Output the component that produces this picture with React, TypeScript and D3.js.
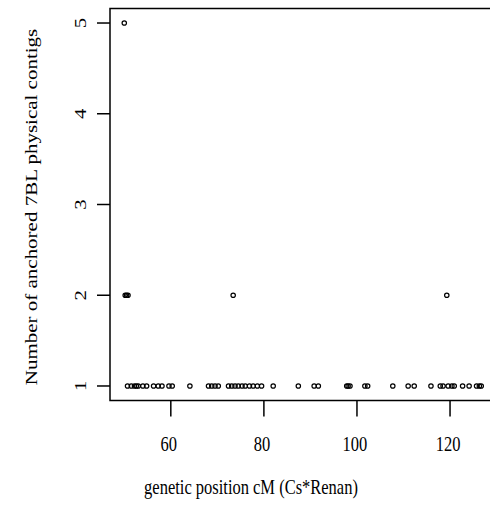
import React from "react";
import * as d3 from "d3";

// genetic position (cM) of each marker bin and number of anchored contigs
const positions: number[] = [
  50.0,
  50.2, 50.5, 50.8,
  50.7, 51.5, 52.2, 52.6, 53.0, 54.0, 54.8, 56.3, 57.3, 58.1, 59.6, 60.3,
  64.1, 68.1, 68.8, 69.5, 70.2, 72.4, 73.1, 73.8, 74.5, 75.3, 76.0, 76.9,
  77.7, 78.6, 79.5, 82.0, 87.4, 90.8, 91.7, 97.8, 98.1, 98.5, 101.7, 102.3,
  107.7, 111.0, 112.3, 115.9, 117.9, 118.5, 119.6, 120.4, 120.9, 122.7,
  124.1, 125.7, 126.3, 126.7,
  73.4, 119.3,
];
const counts: number[] = [
  5,
  2, 2, 2,
  1, 1, 1, 1, 1, 1, 1, 1, 1, 1, 1, 1,
  1, 1, 1, 1, 1, 1, 1, 1, 1, 1, 1, 1,
  1, 1, 1, 1, 1, 1, 1, 1, 1, 1, 1, 1,
  1, 1, 1, 1, 1, 1, 1, 1, 1, 1,
  1, 1, 1, 1,
  2, 2,
];
const xTicks: number[] = [60, 80, 100, 120];
const yTicks: number[] = [1, 2, 3, 4, 5];
const xTitle = "genetic position cM (Cs*Renan)";
const yTitle = "Number of anchored 7BL physical contigs";

const W = 490;
const H = 506;
const left = 110;
const right = 495.5;
const top = 8.5;
const bottom = 400.5;
const FONT = "'Liberation Serif', 'Times New Roman', serif";
const FS = 16.5;
const STRETCH = 1.25;

function pad(ext: [number, number]): [number, number] {
  const r = ext[1] - ext[0];
  return [ext[0] - 0.04 * r, ext[1] + 0.04 * r];
}

export default function App() {
  const xs = d3.scaleLinear().domain(pad(d3.extent(positions) as [number, number])).range([left, right]);
  const ys = d3.scaleLinear().domain(pad(d3.extent(counts) as [number, number])).range([bottom, top]);
  return (
    <svg width={W} height={H} style={{ position: "absolute", left: 0, top: 0, background: "#fff" }}>
      <rect x={left} y={top} width={right - left} height={bottom - top} fill="none" stroke="#000" strokeWidth={1.5} />
      {xTicks.map((t) => (
        <g key={"x" + t}>
          <line x1={xs(t)} x2={xs(t)} y1={bottom} y2={bottom + 16} stroke="#000" strokeWidth={1.5} />
          <text transform={`translate(${xs(t) - 2},451) scale(1,${STRETCH})`} textAnchor="middle" fontFamily={FONT} fontSize={FS}>{t}</text>
        </g>
      ))}
      {yTicks.map((t) => (
        <g key={"y" + t}>
          <line x1={left - 13} x2={left} y1={ys(t)} y2={ys(t)} stroke="#000" strokeWidth={1.5} />
          <text transform={`translate(86,${ys(t)}) rotate(-90) scale(${STRETCH},1)`} textAnchor="middle" fontFamily={FONT} fontSize={FS}>{t}</text>
        </g>
      ))}
      {positions.map((p, i) => (
        <circle key={i} cx={xs(p)} cy={ys(counts[i])} r={2.2} fill="none" stroke="#000" strokeWidth={1.2} />
      ))}
      <text transform={`translate(251,494) scale(1,${STRETCH})`} textAnchor="middle" fontFamily={FONT} fontSize={FS}>{xTitle}</text>
      <text transform={`translate(37,207) rotate(-90) scale(${STRETCH},1)`} textAnchor="middle" fontFamily={FONT} fontSize={16.8}>{yTitle}</text>
    </svg>
  );
}
